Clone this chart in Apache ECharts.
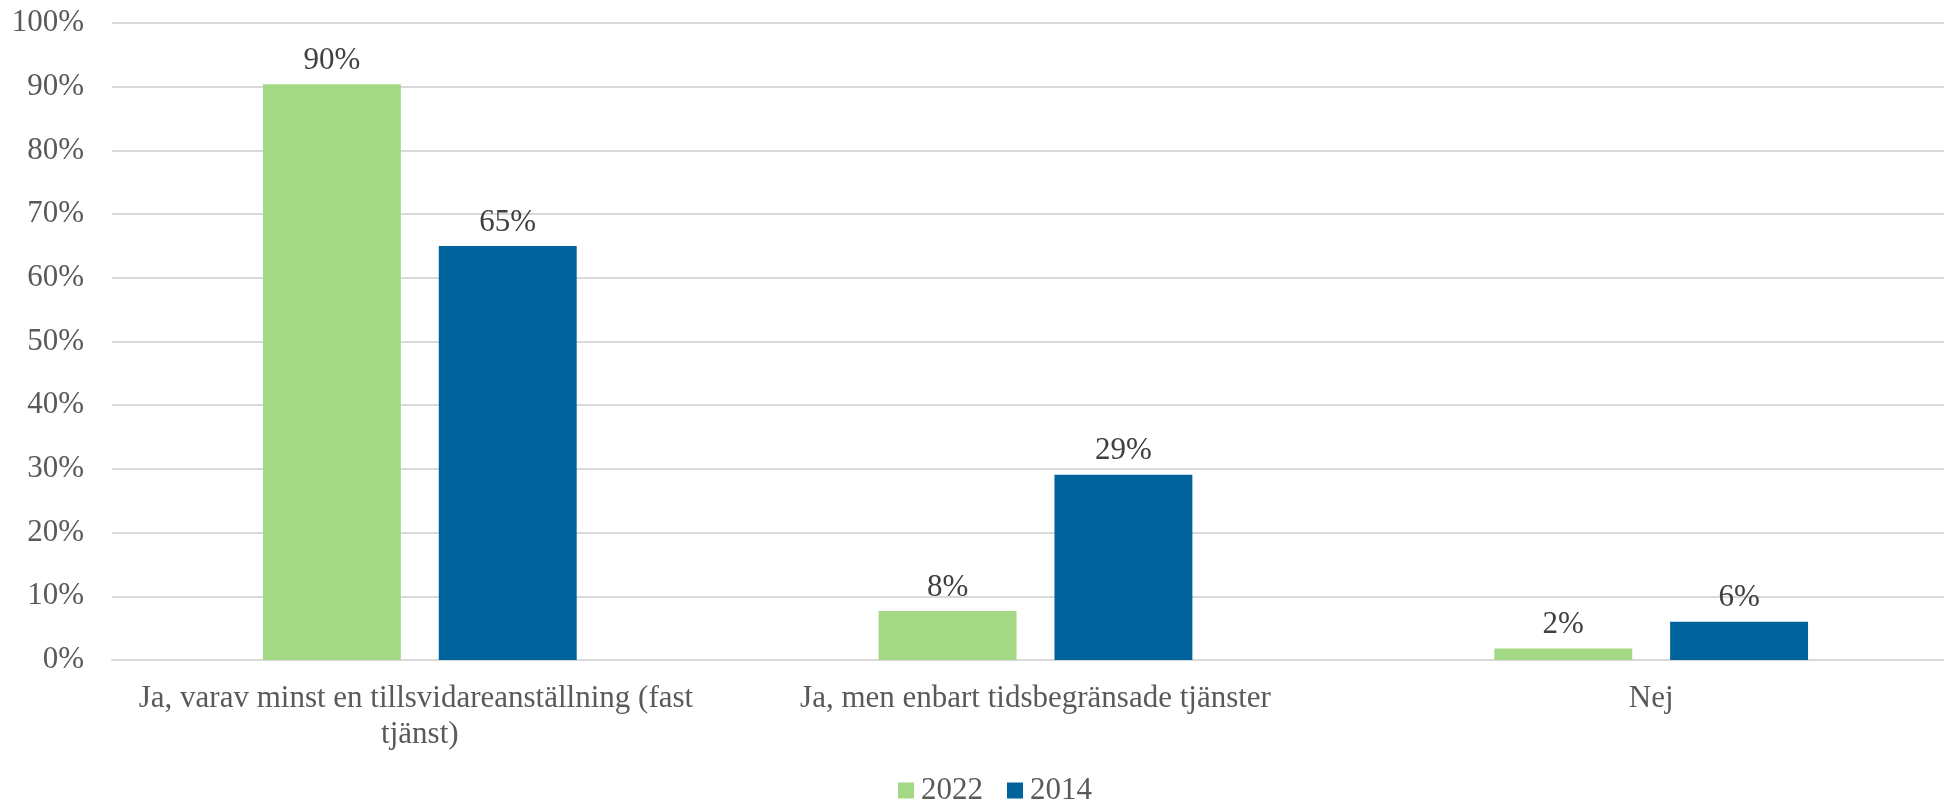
<!DOCTYPE html>
<html>
<head>
<meta charset="utf-8">
<script src="https://cdn.jsdelivr.net/npm/echarts@6/dist/echarts.min.js"></script>
<style>
html,body{margin:0;padding:0;background:#fff;overflow:hidden;width:1944px;height:801px;}
#chart{width:1960px;height:801px;}
</style>
</head>
<body>
<div id="chart"></div>
<script>
const categories = ["Ja, varav minst en tillsvidareanställning (fast tjänst)", "Ja, men enbart tidsbegränsade tjänster", "Nej"];
const values2022 = [90.4, 7.7, 1.8];
const values2014 = [65, 29.1, 6.0];
const seriesNames = ["2022", "2014"];
const yTicks = [0, 10, 20, 30, 40, 50, 60, 70, 80, 90, 100];

const FONT = "Liberation Serif";
const chart = echarts.init(document.getElementById('chart'), null, {renderer: 'canvas'});
const labelCfg = {
  show: true,
  position: 'top',
  distance: 8,
  color: '#404040',
  fontFamily: FONT,
  fontSize: 31,
  formatter: p => Math.round(p.value) + '%'
};
chart.setOption({
  animation: false,
  textStyle: {fontFamily: FONT},
  grid: {left: 112, top: 23, width: 1847, height: 637, containLabel: false},
  legend: {
    data: seriesNames,
    left: 898, top: 775, padding: 0,
    itemWidth: 16, itemHeight: 16, itemGap: 24,
    icon: 'rect',
    textStyle: {fontFamily: FONT, fontSize: 31, lineHeight: 30, color: '#595959', padding: [0,0,0,2]}
  },
  xAxis: {
    type: 'category',
    data: categories,
    axisLine: {show: true, lineStyle: {color: '#d9d9d9', width: 2}},
    axisTick: {show: false},
    axisLabel: {
      fontFamily: FONT, fontSize: 31, color: '#595959', margin: 21,
      width: 600, overflow: 'break', lineHeight: 36, interval: 0
    }
  },
  yAxis: {
    type: 'value',
    min: 0, max: 100, interval: 10,
    axisLine: {show: false},
    axisTick: {show: false},
    splitLine: {lineStyle: {color: '#d9d9d9', width: 2}},
    axisLabel: {
      fontFamily: FONT, fontSize: 31, color: '#595959', margin: 28,
      formatter: v => yTicks.includes(v) ? v + '%' : ''
    }
  },
  series: [
    {name: seriesNames[0], type: 'bar', data: values2022, barWidth: '22.4%', barGap: '27.5%',
     itemStyle: {color: '#a3d984'}, label: labelCfg},
    {name: seriesNames[1], type: 'bar', data: values2014, barWidth: '22.4%', barGap: '27.5%',
     itemStyle: {color: '#00639c'}, label: labelCfg}
  ]
});
</script>
</body>
</html>
